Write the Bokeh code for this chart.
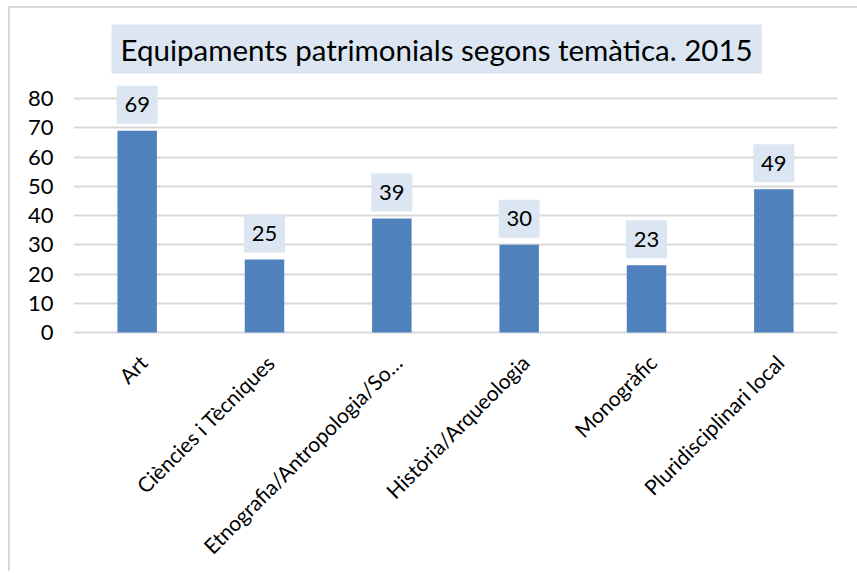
import math
from bokeh.plotting import figure
from bokeh.models import ColumnDataSource, FactorRange, Range1d, FixedTicker, Title
from bokeh.core.properties import value
from bokeh.embed import file_html
from bokeh.resources import INLINE

title_text = "Equipaments patrimonials segons temàtica. 2015"
categories = ["Art", "Ciències i Tècniques", "Etnografia/Antropologia/So…",
              "Història/Arqueologia", "Monogràfic", "Pluridisciplinari local"]
counts = [69, 25, 39, 30, 23, 49]
y_ticks = [0, 10, 20, 30, 40, 50, 60, 70, 80]

FONT = "Lato"
BAR = "#4F81BD"
BOX = "#DCE6F2"
GRID = "#D9D9D9"

# layout (pixels)
FIG_W, FIG_H = 849, 565
TOP, LEFT, RIGHT = 75, 63, 22
ZERO_FROM_TOP = 324          # figure px of the zero line
PX = 2.925                   # pixels per unit
y_max = (ZERO_FROM_TOP - TOP) / PX
y_min = -(FIG_H - ZERO_FROM_TOP) / PX

label_lift = 26 / PX
cat_drop = 26 / PX

src = ColumnDataSource(dict(
    cat=categories,
    val=counts,
    lab=[str(c) for c in counts],
    ly=[c + label_lift for c in counts],
    cy=[-cat_drop] * len(categories),
))

p = figure(width=FIG_W, height=FIG_H, x_range=FactorRange(*categories, range_padding=0),
           y_range=Range1d(y_min, y_max), output_backend="svg", toolbar_location=None,
           min_border_left=LEFT, min_border_right=RIGHT, min_border_top=TOP, min_border_bottom=0)
p.outline_line_color = None
p.background_fill_color = "white"
p.border_fill_color = "white"

p.vbar(x="cat", top="val", width=0.31, source=src, fill_color=BAR, line_color=None)
p.rect(x="cat", y="ly", width=41, height=38, width_units="screen", height_units="screen",
       source=src, fill_color=BOX, line_color=None)
p.text(x="cat", y="ly", text="lab", source=src, text_align="center", text_baseline="middle",
       text_font=value(FONT), text_font_size="22px", text_color="#000000")

# category labels, rotated 45 degrees
p.text(x="cat", y="cy", text="cat", source=src, angle=math.pi / 4, x_offset=6,
       text_align="right", text_baseline="middle",
       text_font=value(FONT), text_font_size="21px", text_color="#000000")

p.xaxis.visible = False
p.xgrid.grid_line_color = None
p.ygrid.grid_line_color = GRID
p.ygrid.grid_line_width = 2
p.yaxis.ticker = FixedTicker(ticks=y_ticks)

ax = p.yaxis[0]
ax.axis_line_color = None
ax.major_tick_line_color = None
ax.minor_tick_line_color = None
ax.major_tick_out = 0
ax.major_tick_in = 0
ax.major_label_text_font = FONT
ax.major_label_text_color = "#000000"
ax.major_label_text_font_size = "22px"
ax.major_label_standoff = 20

title = Title(text=title_text, align="left", offset=38, standoff=20,
              text_font=FONT, text_font_size="29.5px", text_font_style="normal",
              text_color="#000000", background_fill_color=BOX,
              padding=dict(left=9, right=9, top=7, bottom=7))
p.add_layout(title, "above")

p.styles = {"margin-left": "8px", "margin-top": "6px",
            "border-left": "2px solid #D9D9D9", "border-top": "2px solid #D9D9D9"}

open("out.html", "w").write(file_html(p, INLINE))
